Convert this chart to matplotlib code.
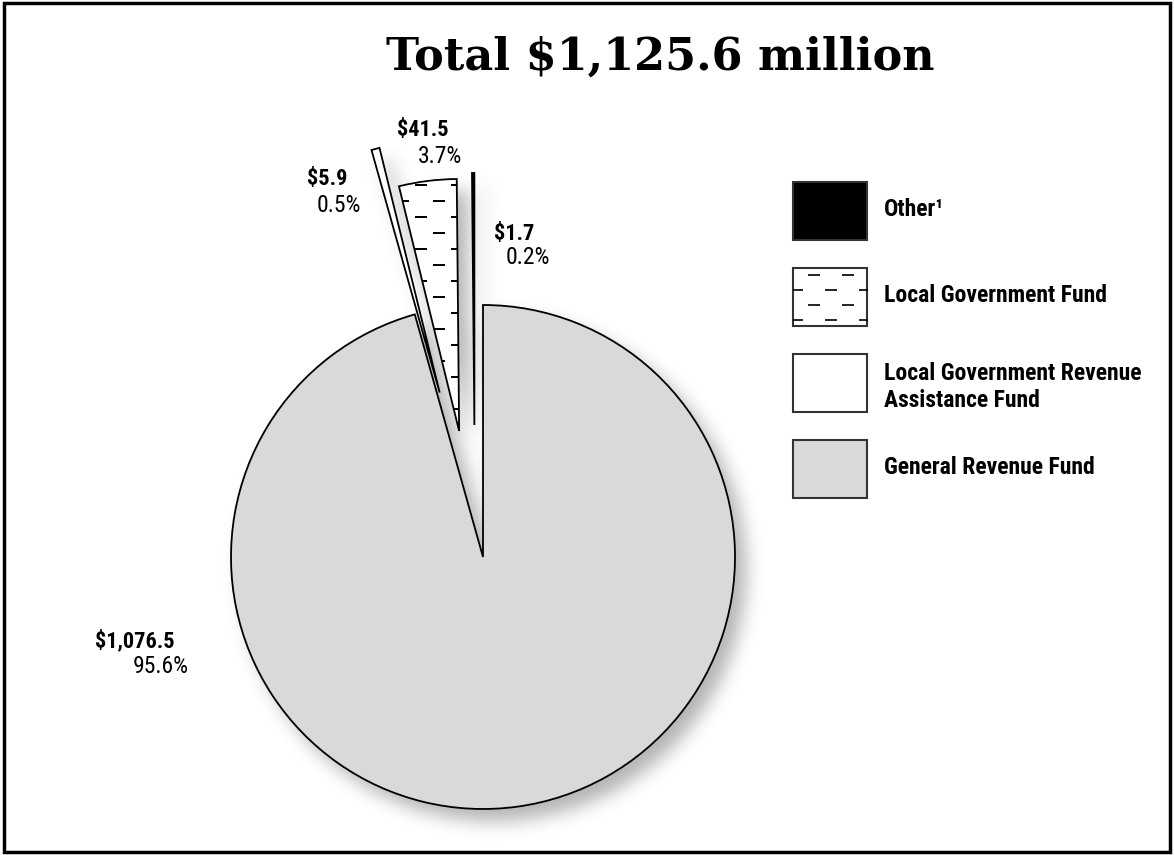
import numpy as np
import matplotlib.pyplot as plt
from matplotlib import font_manager
from matplotlib.patches import Rectangle

# fund split of the total, in millions of dollars
funds = ['General Revenue Fund', 'Local Government Revenue\nAssistance Fund',
         'Local Government Fund', 'Other¹']
amounts = [1076.5, 5.9, 41.5, 1.7]
shares = [95.6, 0.5, 3.7, 0.2]
total = 1125.6
colors = ['#d9d9d9', 'white', 'white', 'black']

W, H = 1174, 855


def pick_narrow():
    # prefer a condensed sans face if one is installed
    fonts = font_manager.fontManager.ttflist
    for f in fonts:
        if f.name in ('Liberation Sans Narrow', 'Roboto Condensed', 'Open Sans Condensed'):
            return f.name, 'normal'
    for fam in ('Roboto', 'Open Sans', 'Noto Sans', 'DejaVu Sans', 'Lato'):
        for f in fonts:
            if f.name == fam and f.stretch in ('condensed', 'semi-condensed', 'extra-condensed', 75, 87):
                return fam, f.stretch
    return 'Roboto', 'normal'


narrow, stretch = pick_narrow()
fam = [narrow, 'DejaVu Sans']


def dash_texture(ax, patch, step_x=36, step_y=16, size=9):
    # sparse staggered dashes clipped to a patch
    if isinstance(patch, Rectangle):
        ext = patch.get_bbox()
    else:
        ext = patch.get_path().get_extents()
    xs, ys = [], []
    for i, y in enumerate(np.arange(ext.y0 + 6, ext.y1, step_y)):
        off = (step_x / 2) * (i % 2)
        for x in np.arange(ext.x0 + 4 + off, ext.x1, step_x):
            xs.append(x)
            ys.append(y)
    ln, = ax.plot(xs, ys, ls='none', marker='_', ms=size, mew=1.2,
                  color='black', zorder=3)
    ln.set_clip_path(patch)


def soft_shadow(ax, patches, dx, dy, sigma, strength):
    cell = 2.0
    gx, gy = np.meshgrid(np.arange(0, W, cell), np.arange(0, H, cell))
    pts = np.column_stack([gx.ravel() - dx, gy.ravel() - dy])
    mask = np.zeros(gx.size)
    for p in patches:
        mask = np.maximum(mask, p.get_path().contains_points(pts))
    mask = mask.reshape(gx.shape)
    s = sigma / cell
    k = np.arange(-int(3 * s), int(3 * s) + 1)
    kern = np.exp(-0.5 * (k / s) ** 2)
    kern /= kern.sum()
    mask = np.apply_along_axis(lambda r: np.convolve(r, kern, mode='same'), 0, mask)
    mask = np.apply_along_axis(lambda r: np.convolve(r, kern, mode='same'), 1, mask)
    rgba = np.zeros(mask.shape + (4,))
    rgba[..., 3] = mask * strength
    ax.imshow(rgba, extent=(0, W, 0, H), origin='lower', zorder=0.5,
              interpolation='bilinear')


fig = plt.figure(figsize=(W / 100, H / 100), dpi=100)
ax = fig.add_axes([0, 0, 1, 1])

# pie laid out in pixel units, y upwards
wedges, _ = ax.pie(amounts, colors=colors, startangle=90, counterclock=False,
                   center=(483, 298), radius=252, explode=[0, 170, 127, 132],
                   wedgeprops=dict(edgecolor='black', linewidth=1.3))
# nudge the two narrow pieces left so they sit beside the white sliver
for w in wedges[2:]:
    cx, cy = w.center
    w.set_center((cx - 8, cy))
dash_texture(ax, wedges[2])
soft_shadow(ax, wedges, 10, -13, 9, 0.3)

ax.set_xlim(0, W)
ax.set_ylim(0, H)
ax.set_aspect('equal')
ax.axis('off')

ax.text(660, H - 57, f'Total ${total:,.1f} million', ha='center', va='center',
        fontsize=32, fontweight='bold', family='DejaVu Serif')

# slice labels: amount in bold, share underneath
label_pos = [((95, 208), (133, 182)), ((307, 670), (317, 643)),
             ((397, 719), (418, 692)), ((494, 615), (506, 591))]
for amt, pct, (p1, p2) in zip(amounts, shares, label_pos):
    ax.text(*p1, f'${amt:,.1f}', fontsize=16, fontweight='bold',
            family=fam, fontstretch=stretch, va='baseline')
    ax.text(*p2, f'{pct}%', fontsize=17, family=fam,
            fontstretch=stretch, va='baseline')

# key on the right; baseline is that of the last line
box_tops = [182, 268, 354, 440]
for i, idx in enumerate([3, 2, 1, 0]):
    top = box_tops[i]
    box = Rectangle((793, H - top - 58), 74, 58, facecolor=colors[idx],
                    edgecolor='#333333', linewidth=1.5, zorder=2)
    ax.add_patch(box)
    if idx == 2:
        dash_texture(ax, box, step_x=34, step_y=15, size=8)
    base = top + (53 if '\n' in funds[idx] else 34)
    ax.text(884, H - base, funds[idx], fontsize=17, fontweight='bold',
            family=fam, fontstretch=stretch, va='baseline', linespacing=1.2)

fig.add_artist(Rectangle((0.003, 0.003), 0.994, 0.994, transform=fig.transFigure,
                         fill=False, edgecolor='black', linewidth=2.5))

fig.savefig('out.png', dpi=100)
